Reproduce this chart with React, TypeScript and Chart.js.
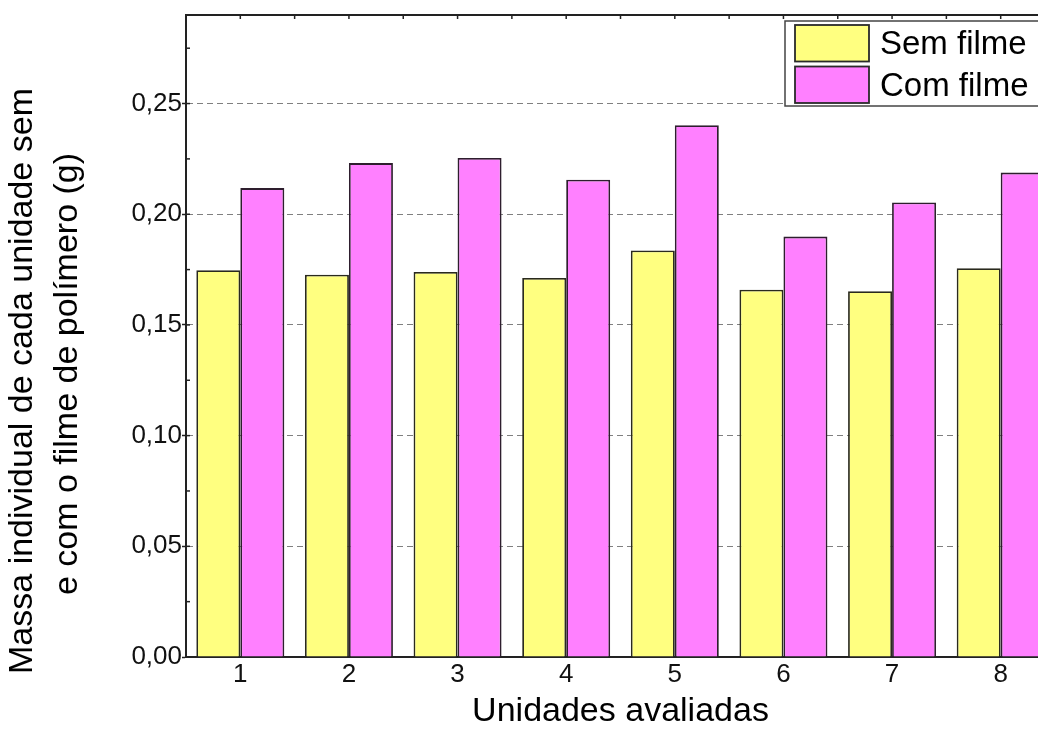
import { useEffect, useRef } from 'react';
import { Chart, registerables } from 'chart.js';

Chart.register(...registerables);

const FONT = "'Liberation Sans', Arial, sans-serif";

const CATEGORIES = ['1', '2', '3', '4', '5', '6', '7', '8'];
const SEM_FILME = [0.1747, 0.1727, 0.1739, 0.1712, 0.1836, 0.1659, 0.1652, 0.1756];
const COM_FILME = [0.2118, 0.2231, 0.2254, 0.2156, 0.2402, 0.1899, 0.2053, 0.2188];
const SERIES_NAMES = ['Sem filme', 'Com filme'];
const SERIES_COLORS = ['#FFFF80', '#FF80FF'];
const Y_TICKS = [0, 0.05, 0.1, 0.15, 0.2, 0.25];
const Y_MINOR = [0.025, 0.075, 0.125, 0.175, 0.225, 0.275];
const Y_MAX = 0.29;
const Y_TITLE = ['Massa individual de cada unidade sem', 'e com o filme de polímero (g)'];
const X_TITLE = 'Unidades avaliadas';

const decorPlugin = {
  id: 'decor',
  afterDraw(chart: any) {
    const { ctx, chartArea, scales } = chart;
    const { left, top, right } = chartArea;
    const x = scales.x;
    const y = scales.y;
    ctx.save();

    // top frame line
    ctx.strokeStyle = '#222';
    ctx.lineWidth = 2;
    ctx.beginPath();
    ctx.moveTo(left - 1, top);
    ctx.lineTo(right, top);
    ctx.stroke();

    // top ticks (inward)
    ctx.lineWidth = 1.5;
    const n = CATEGORIES.length;
    for (let i = 0; i < n; i++) {
      const c = x.getPixelForValue(i);
      const nx = i < n - 1 ? x.getPixelForValue(i + 1) : c + (c - x.getPixelForValue(i - 1));
      const positions = [c, (c + nx) / 2];
      for (const px of positions) {
        if (px > right) continue;
        ctx.beginPath();
        ctx.moveTo(px, top);
        ctx.lineTo(px, top + 4);
        ctx.stroke();
      }
    }

    // y inward ticks: major and minor
    for (const v of [...Y_TICKS, ...Y_MINOR]) {
      const py = y.getPixelForValue(v);
      ctx.beginPath();
      ctx.moveTo(left, py);
      ctx.lineTo(left + 4, py);
      ctx.stroke();
    }

    // legend
    const lx = 777;
    const ly = 13;
    const lw = 280;
    const lh = 85;
    ctx.fillStyle = '#ffffff';
    ctx.fillRect(lx, ly, lw, lh);
    ctx.strokeStyle = '#444';
    ctx.lineWidth = 1.5;
    ctx.strokeRect(lx, ly, lw, lh);
    ctx.font = `33px ${FONT}`;
    ctx.textAlign = 'left';
    ctx.textBaseline = 'alphabetic';
    for (let i = 0; i < SERIES_NAMES.length; i++) {
      const sy = 17 + i * 41.5;
      ctx.fillStyle = SERIES_COLORS[i];
      ctx.fillRect(787, sy, 74, 36.5);
      ctx.strokeStyle = '#2a2a2a';
      ctx.lineWidth = 1.8;
      ctx.strokeRect(787, sy, 74, 36.5);
      ctx.fillStyle = '#000';
      ctx.fillText(SERIES_NAMES[i], 872, 46 + i * 41.7);
    }

    // axis titles
    ctx.fillStyle = '#000';
    ctx.font = `34px ${FONT}`;
    ctx.textAlign = 'center';
    ctx.textBaseline = 'middle';
    ctx.fillText(X_TITLE, (left + right) / 2, 704);

    const yTitleX = [15, 60];
    const yTitleY = [373, 366];
    for (let i = 0; i < Y_TITLE.length; i++) {
      ctx.save();
      ctx.translate(yTitleX[i], yTitleY[i]);
      ctx.rotate(-Math.PI / 2);
      ctx.fillText(Y_TITLE[i], 0, 0);
      ctx.restore();
    }

    ctx.restore();
  },
};

export default function App() {
  const canvasRef = useRef<HTMLCanvasElement | null>(null);

  useEffect(() => {
    if (!canvasRef.current) return;
    Chart.defaults.font.family = FONT;
    const chart = new Chart(canvasRef.current, {
      type: 'bar',
      data: {
        labels: CATEGORIES,
        datasets: [
          {
            label: SERIES_NAMES[0],
            data: SEM_FILME,
            backgroundColor: SERIES_COLORS[0],
            borderColor: '#2a2a1e',
            borderWidth: 1.8,
            categoryPercentage: 0.81,
            barPercentage: 1,
          },
          {
            label: SERIES_NAMES[1],
            data: COM_FILME,
            backgroundColor: SERIES_COLORS[1],
            borderColor: '#2e1e2e',
            borderWidth: 1.8,
            categoryPercentage: 0.81,
            barPercentage: 1,
          },
        ],
      },
      options: {
        responsive: false,
        animation: false,
        devicePixelRatio: 1,
        layout: { padding: { left: 0, top: 7, right: 13, bottom: 0 } },
        plugins: {
          legend: { display: false },
          tooltip: { enabled: false },
          title: { display: false },
        },
        scales: {
          x: {
            type: 'category',
            offset: true,
            grid: { display: false, drawTicks: false },
            border: { display: true, color: '#222', width: 2 },
            ticks: {
              font: { family: FONT, size: 26 },
              color: '#111',
              padding: 2,
              maxRotation: 0,
              autoSkip: false,
            },
            afterFit: (s: any) => {
              s.height = 64;
              s.paddingLeft = 0;
              s.paddingRight = 0;
            },
          },
          y: {
            type: 'linear',
            min: 0,
            max: Y_MAX,
            afterBuildTicks: (s: any) => {
              s.ticks = Y_TICKS.map((v) => ({ value: v }));
            },
            afterFit: (s: any) => {
              s.width = 178;
              s.paddingTop = 0;
              s.paddingBottom = 0;
            },
            ticks: {
              callback: (v: any) => Number(v).toFixed(2).replace('.', ','),
              font: { family: FONT, size: 26 },
              color: '#111',
              padding: 0,
            },
            grid: {
              color: (c: any) => (c.tick && c.tick.value === 0 ? 'rgba(0,0,0,0)' : '#808080'),
              lineWidth: 1,
              drawTicks: true,
              tickLength: 4,
              tickColor: '#222',
              tickWidth: 1.5,
            },
            border: { display: true, color: '#222', width: 2, dash: [6, 4] },
          },
        },
      },
      plugins: [decorPlugin],
    });
    return () => chart.destroy();
  }, []);

  return (
    <div style={{ width: 1038, height: 713, overflow: 'hidden' }}>
      <canvas ref={canvasRef} width={1060} height={713} style={{ display: 'block' }} />
    </div>
  );
}
